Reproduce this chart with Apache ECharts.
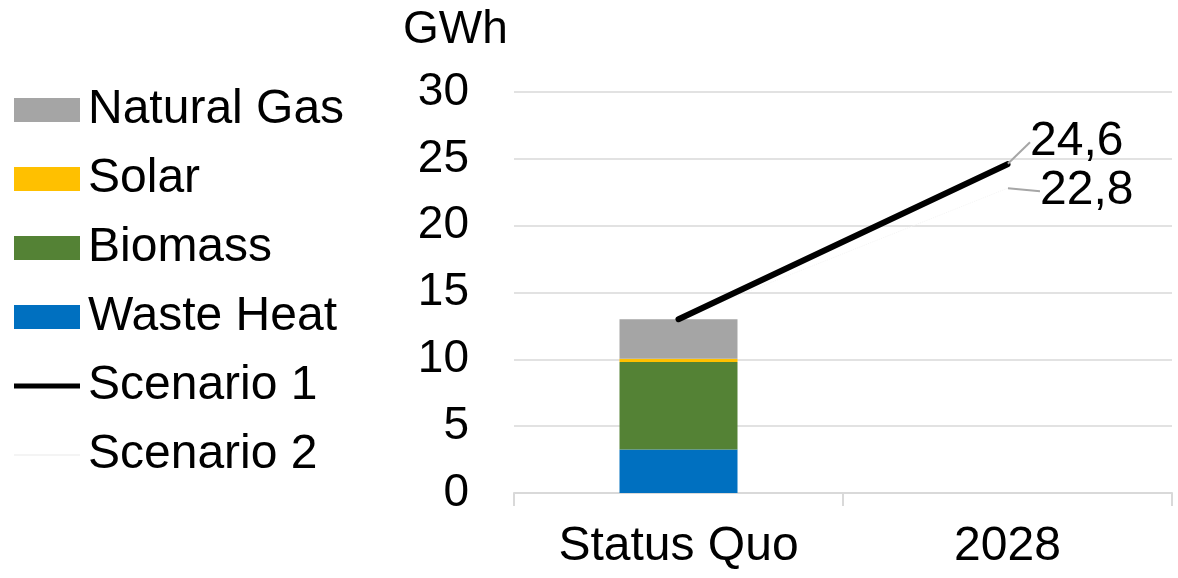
<!DOCTYPE html>
<html><head><meta charset="utf-8">
<script src="https://cdn.jsdelivr.net/npm/echarts@6/dist/echarts.min.js"></script>
<style>html,body{margin:0;padding:0;background:#fff}#c{width:1178px;height:578px}</style>
</head><body><div id="c"></div>
<script>
const categories = ['Status Quo', '2028'];
const wasteHeat = [3.25, '-'];
const biomass = [6.55, '-'];
const solar = [0.25, '-'];
const naturalGas = [2.95, '-'];
const scenario1 = [13.0, 24.6];
const scenario2 = [13.0, 22.8];
const yTicks = [0, 5, 10, 15, 20, 25, 30];

const FONT = '"Liberation Sans", Arial, sans-serif';
const FS = 48;
const fmt = v => String(v).replace('.', ',');
const lastOnly = arr => arr.map((v, i) => i === arr.length - 1 ? v :
  {value: v, label: {show: false}, labelLine: {show: false}});
const chart = echarts.init(document.getElementById('c'), null, {renderer: 'canvas'});
const barSeries = (name, data, color) => ({
  name, type: 'bar', stack: 'a', data, barWidth: 118,
  itemStyle: {color}, emphasis: {disabled: true}
});
chart.setOption({
  animation: false,
  textStyle: {fontFamily: FONT},
  title: {text: 'GWh', left: 403, top: 7, padding: 0, textStyle: {fontFamily: FONT, fontSize: 46, fontWeight: 'normal', color: '#000'}},
  legend: {
    orient: 'vertical', left: 14, top: 86, padding: 0, itemWidth: 66, itemHeight: 24, itemGap: 21,
    textStyle: {fontFamily: FONT, fontSize: FS, color: '#000', lineHeight: FS, padding: [0, 0, 0, 3]},
    data: [
      {name: 'Natural Gas', icon: 'rect'},
      {name: 'Solar', icon: 'rect'},
      {name: 'Biomass', icon: 'rect'},
      {name: 'Waste Heat', icon: 'rect'},
      {name: 'Scenario 1', icon: 'path://M0,0 L66,0 L66,5 L0,5 Z'},
      {name: 'Scenario 2', icon: 'path://M0,0 L66,0 L66,2 L0,2 Z'}
    ]
  },
  grid: {left: 514, right: 6, top: 92, bottom: 85},
  xAxis: {
    type: 'category', data: categories,
    axisLine: {lineStyle: {color: '#d9d9d9', width: 2}},
    axisTick: {show: true, length: 13, lineStyle: {color: '#d9d9d9', width: 2}},
    axisLabel: {fontFamily: FONT, fontSize: FS, color: '#000', margin: 30}
  },
  yAxis: {
    type: 'value', min: 0, max: 30, interval: 5,
    axisLine: {show: false}, axisTick: {show: false},
    splitLine: {lineStyle: {color: '#d9d9d9', width: 1.5}},
    axisLabel: {fontFamily: FONT, fontSize: 46, color: '#000', margin: 45,
      formatter: v => yTicks.includes(v) ? String(v) : ''}
  },
  series: [
    barSeries('Waste Heat', wasteHeat, '#0070c0'),
    barSeries('Biomass', biomass, '#548235'),
    barSeries('Solar', solar, '#ffc000'),
    barSeries('Natural Gas', naturalGas, '#a5a5a5'),
    {
      name: 'Scenario 1', type: 'line', data: lastOnly(scenario1), symbol: 'circle', symbolSize: 1, showSymbol: true, z: 5,
      lineStyle: {color: '#000', width: 6, cap: 'round'}, itemStyle: {color: '#000'},
      label: {show: true, position: 'right', distance: 22, fontFamily: FONT, fontSize: FS, color: '#000',
        formatter: p => fmt(p.value)},
      labelLine: {show: true, lineStyle: {color: '#a6a6a6', width: 2}},
      labelLayout: {dy: -22},
      emphasis: {disabled: true}
    },
    {
      name: 'Scenario 2', type: 'line', data: lastOnly(scenario2), symbol: 'circle', symbolSize: 1, showSymbol: true, z: 4,
      lineStyle: {color: '#f4f4f4', width: 1, type: 'dotted'}, itemStyle: {color: '#f4f4f4'},
      label: {show: true, position: 'right', distance: 32, fontFamily: FONT, fontSize: FS, color: '#000',
        formatter: p => fmt(p.value)},
      labelLine: {show: true, lineStyle: {color: '#a6a6a6', width: 2}},
      labelLayout: {dy: 3},
      emphasis: {disabled: true}
    }
  ]
});
</script></body></html>
